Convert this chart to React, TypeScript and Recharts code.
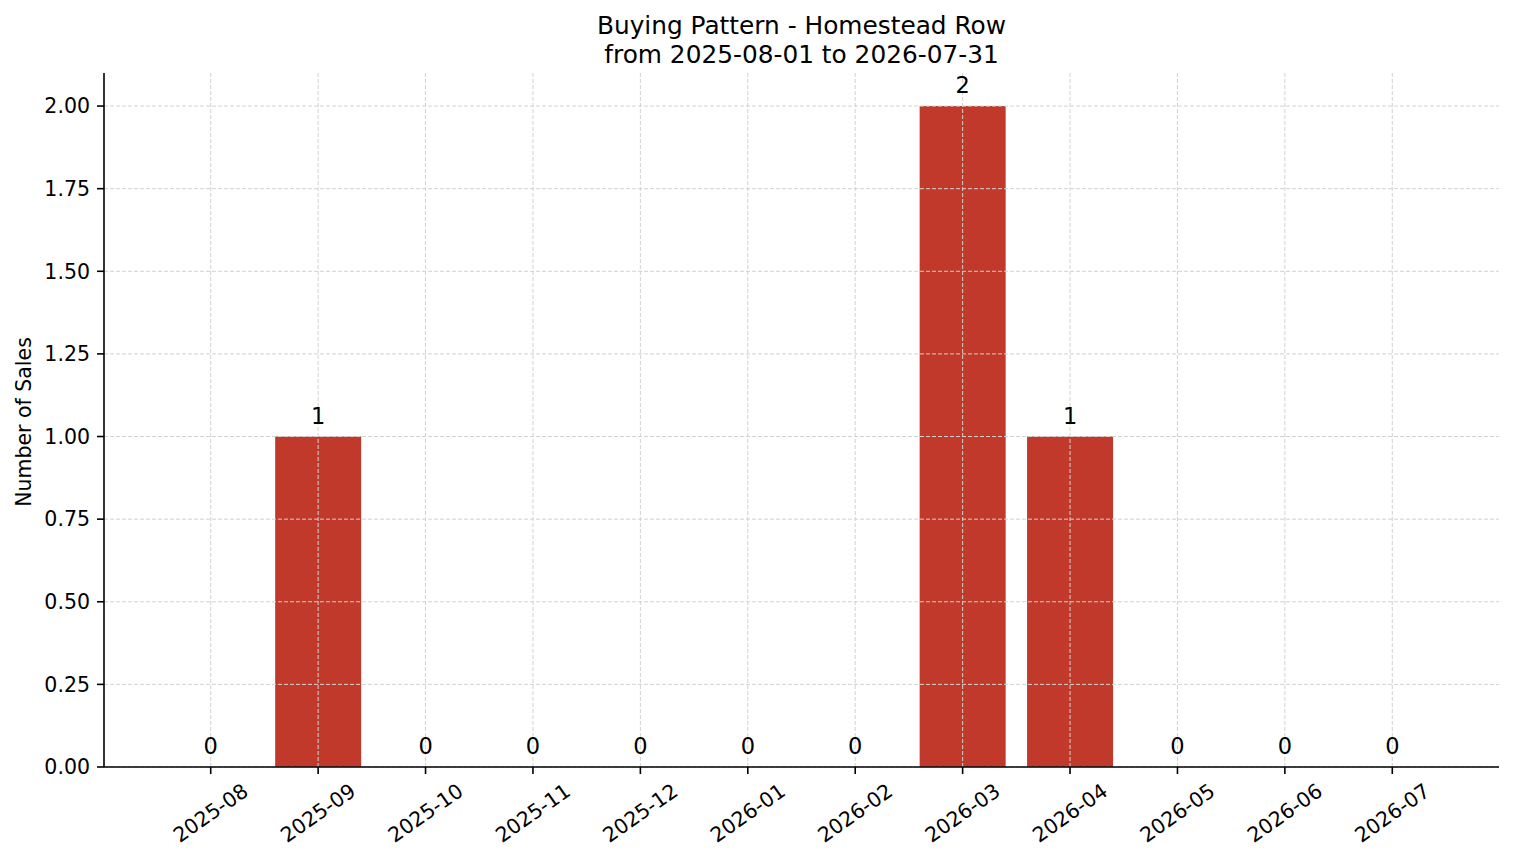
import React from 'react';
import { ComposedChart, Bar, Line, XAxis, YAxis, CartesianGrid, LabelList } from 'recharts';

const months = ['2025-08', '2025-09', '2025-10', '2025-11', '2025-12', '2026-01', '2026-02', '2026-03', '2026-04', '2026-05', '2026-06', '2026-07'];
const sales = [0, 1, 0, 0, 0, 0, 0, 2, 1, 0, 0, 0];
const yTicks = [0, 0.25, 0.5, 0.75, 1, 1.25, 1.5, 1.75, 2];
const titleLines = ['Buying Pattern - Homestead Row', 'from 2025-08-01 to 2026-07-31'];
const yLabel = 'Number of Sales';

const data = months.map((m, i) => ({ month: m, sales: sales[i] }));

const FONT = "'DejaVu Sans', sans-serif";
const FS = 20.5;
const LABEL_FS = 22.5;

const XTick = (props: any) => {
  const { x, y, payload } = props;
  const cy = y + 32;
  return (
    <text
      x={x}
      y={cy}
      textAnchor="middle"
      dominantBaseline="central"
      transform={`rotate(-35, ${x}, ${cy})`}
      fontSize={FS}
      fill="#000"
      fontFamily={FONT}
    >
      {payload.value}
    </text>
  );
};

const ValueLabel = (props: any) => {
  const vb = props.viewBox || {};
  const x = props.x ?? vb.x;
  const y = props.y ?? vb.y;
  return (
    <text x={x} y={y - 13} textAnchor="middle" fontSize={LABEL_FS} fill="#000" fontFamily={FONT}>
      {props.value}
    </text>
  );
};

export default function App() {
  return (
    <div style={{ position: 'absolute', left: 0, top: 0, width: 1514, height: 863, background: '#fff', fontFamily: FONT }}>
      <ComposedChart
        width={1514}
        height={863}
        data={data}
        margin={{ top: 73, right: 15, bottom: 0, left: 0 }}
        barCategoryGap="10%"
      >
        <XAxis
          dataKey="month"
          type="category"
          interval={0}
          height={96}
          padding={{ left: 53, right: 53 }}
          tickSize={7}
          tickMargin={7}
          axisLine={{ stroke: '#000', strokeWidth: 1.6 }}
          tickLine={{ stroke: '#000', strokeWidth: 1.6 }}
          tick={<XTick />}
        />
        <YAxis
          type="number"
          domain={[0, 2.1]}
          ticks={yTicks}
          width={104}
          tickSize={7}
          tickMargin={7}
          tickFormatter={(v: number) => v.toFixed(2)}
          axisLine={{ stroke: '#000', strokeWidth: 1.6 }}
          tickLine={{ stroke: '#000', strokeWidth: 1.6 }}
          tick={{ fill: '#000', fontSize: FS, fontFamily: FONT }}
        />
        <Bar dataKey="sales" fill="#c0392b" isAnimationActive={false} />
        <CartesianGrid stroke="#d2d2d2" strokeDasharray="4 2" strokeWidth={1} syncWithTicks zIndex={350} />
        <Line
          dataKey="sales"
          stroke="none"
          dot={false}
          activeDot={false}
          legendType="none"
          isAnimationActive={false}
        >
          <LabelList dataKey="sales" content={<ValueLabel />} />
        </Line>
      </ComposedChart>
      <svg
        width={1514}
        height={863}
        style={{ position: 'absolute', left: 0, top: 0, pointerEvents: 'none' }}
      >
        <text x={801.5} y={34} textAnchor="middle" fontSize={24.8} fill="#000" fontFamily={FONT}>
          {titleLines[0]}
        </text>
        <text x={801.5} y={62.5} textAnchor="middle" fontSize={24.8} fill="#000" fontFamily={FONT}>
          {titleLines[1]}
        </text>
        <text x={31} y={422} textAnchor="middle" transform="rotate(-90, 31, 422)" fontSize={FS} fill="#000" fontFamily={FONT}>
          {yLabel}
        </text>
      </svg>
    </div>
  );
}
